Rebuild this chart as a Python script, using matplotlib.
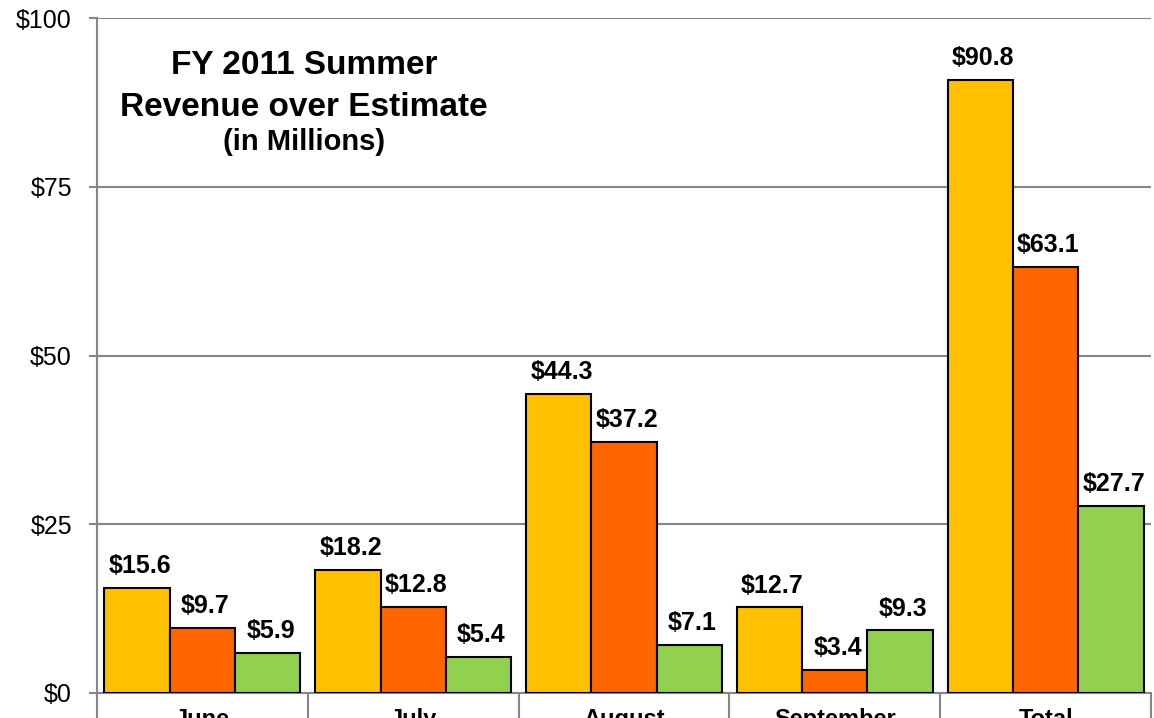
import numpy as np
import matplotlib
matplotlib.use('Agg')
import matplotlib.pyplot as plt

# data (millions of dollars)
months = ["June", "July", "August", "September", "Total"]
series_a = [15.6, 18.2, 44.3, 12.7, 90.8]
series_b = [9.7, 12.8, 37.2, 3.4, 63.1]
series_c = [5.9, 5.4, 7.1, 9.3, 27.7]
y_ticks = [0, 25, 50, 75, 100]
y_labels = ["$0", "$25", "$50", "$75", "$100"]

colors = ["#FFC000", "#FF6600", "#92D050"]
GRAY = "#868686"

plt.rcParams['font.family'] = ['Liberation Sans', 'DejaVu Sans']

W, H = 1154, 718
fig = plt.figure(figsize=(W / 100, H / 100), dpi=100)
ax = fig.add_axes([97 / W, 1 - 693 / H, (1151 - 97) / W, (693 - 18) / H])

x = np.arange(len(months))
bw = 0.31
for i, (vals, c) in enumerate(zip([series_a, series_b, series_c], colors)):
    bars = ax.bar(x + (i - 1) * bw, vals, width=bw, color=c,
                  edgecolor='black', linewidth=1.5, zorder=3)
    for b, v in zip(bars, vals):
        ax.annotate("$%.1f" % v, (b.get_x() + b.get_width() / 2, v),
                    xytext=(2, 7), textcoords='offset points',
                    ha='center', va='bottom', fontsize=18, fontweight='bold')

ax.set_xlim(-0.5, len(months) - 0.5)
ax.set_ylim(0, 100)

ax.set_yticks(y_ticks)
ax.set_yticklabels(y_labels, fontsize=18)
ax.tick_params(axis='y', length=6, width=1.5, color=GRAY, pad=12)
ax.yaxis.grid(True, color=GRAY, linewidth=1.5, zorder=0)

ax.set_xticks(x)
ax.set_xticklabels(months, fontsize=17, fontweight='bold')
ax.set_xticks(np.arange(len(months) + 1) - 0.5, minor=True)
ax.tick_params(axis='x', which='major', length=0, pad=11)
ax.tick_params(axis='x', which='minor', length=30, width=1.5, color=GRAY)

for s in ['top', 'right']:
    ax.spines[s].set_visible(False)
for s in ['left', 'bottom']:
    ax.spines[s].set_color(GRAY)
    ax.spines[s].set_linewidth(1.5)
ax.set_axisbelow(True)

# title block inside the plot area
cx = 304 / W
fig.text(cx, 1 - 66 / H, "FY 2011 Summer", ha='center', va='center',
         fontsize=24, fontweight='bold')
fig.text(cx, 1 - 107 / H, "Revenue over Estimate", ha='center', va='center',
         fontsize=24, fontweight='bold')
fig.text(cx, 1 - 142 / H, "(in Millions)", ha='center', va='center',
         fontsize=21, fontweight='bold')

fig.savefig("out.png", dpi=100)
